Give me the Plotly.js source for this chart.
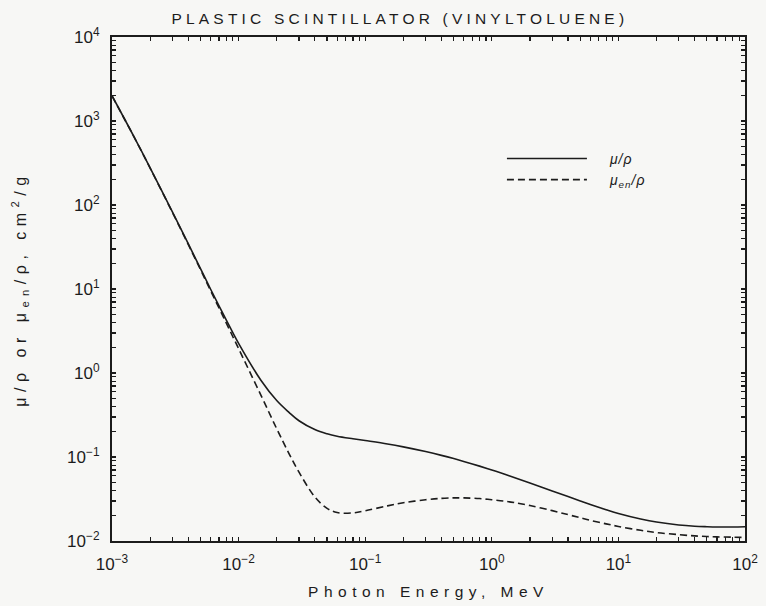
<!DOCTYPE html>
<html>
<head>
<meta charset="utf-8">
<script src="https://cdn.plot.ly/plotly-3.0.1.min.js"></script>
<style>
  html, body { margin: 0; padding: 0; background: #f7f7f5; }
  #chart { width: 766px; height: 606px; }
  .gtitle { letter-spacing: 4.2px; }
  .xtitle { letter-spacing: 5.5px; }
  .ytitle { letter-spacing: 5.5px; }
  .legendtext { letter-spacing: 1px; }
</style>
</head>
<body>
<div id="chart"></div>
<script>
// Photon energy, MeV
const energy = [0.001, 0.0015, 0.002, 0.003, 0.004, 0.005, 0.006, 0.008, 0.01, 0.015, 0.02, 0.025, 0.03, 0.04, 0.05, 0.06, 0.08, 0.1, 0.15, 0.2, 0.3, 0.4, 0.5, 0.6, 0.8, 1, 1.25, 1.5, 2, 3, 4, 5, 6, 8, 10, 15, 20, 30, 40, 50, 60, 80, 100];
// mass attenuation coefficient mu/rho, cm2/g
const muRho = [2000, 640, 277, 82.6, 34.6, 17.5, 10.0, 4.27, 2.25, 0.82, 0.47, 0.34, 0.27, 0.212, 0.189, 0.177, 0.165, 0.157, 0.143, 0.132, 0.116, 0.1046, 0.0958, 0.0886, 0.0779, 0.0701, 0.0627, 0.0570, 0.0490, 0.0395, 0.0338, 0.0300, 0.0272, 0.0236, 0.0213, 0.0183, 0.0168, 0.0155, 0.0150, 0.0148, 0.0147, 0.0147, 0.0148];
// mass energy-absorption coefficient mu_en/rho, cm2/g
const muEnRho = [1990, 638, 275, 81.7, 33.9, 17.0, 9.6, 3.92, 1.95, 0.545, 0.217, 0.11, 0.066, 0.0335, 0.0245, 0.0218, 0.0216, 0.0229, 0.0262, 0.0285, 0.031, 0.0322, 0.0326, 0.0326, 0.032, 0.031, 0.0299, 0.0287, 0.0264, 0.023, 0.0206, 0.0189, 0.0176, 0.016, 0.0149, 0.0134, 0.0126, 0.0119, 0.0115, 0.0113, 0.0112, 0.0111, 0.0110];

const xTickVals = [0.001, 0.01, 0.1, 1, 10, 100];
const xTickText = ['10<sup>−3</sup>', '10<sup>−2</sup>', '10<sup>−1</sup>', '10<sup>0</sup>', '10<sup>1</sup>', '10<sup>2</sup>'];
const yTickVals = [0.01, 0.1, 1, 10, 100, 1000, 10000];
const yTickText = ['10<sup>−2</sup>', '10<sup>−1</sup>', '10<sup>0</sup>', '10<sup>1</sup>', '10<sup>2</sup>', '10<sup>3</sup>', '10<sup>4</sup>'];
const minorMultipliers = [2, 3, 4, 5, 6, 7, 8, 9];

// major decade ticks (labelled) plus unlabelled 2..9 ticks inside each decade
function allTicks(decades, labels) {
  const vals = [], text = [];
  decades.forEach(function (d, i) {
    vals.push(d); text.push(labels[i]);
    if (i < decades.length - 1) {
      minorMultipliers.forEach(function (m) { vals.push(d * m); text.push(''); });
    }
  });
  return { vals: vals, text: text };
}
const xt = allTicks(xTickVals, xTickText);
const yt = allTicks(yTickVals, yTickText);

const seriesNames = ['<i>μ/ρ</i>', '<i>μ<sub>en</sub>/ρ</i>'];

const ink = '#1c1c1c';
const bg = '#f7f7f5';
const fontFam = 'Liberation Sans, Arial, sans-serif';

const traces = [
  {
    x: energy, y: muRho, name: seriesNames[0], type: 'scatter', mode: 'lines',
    line: { color: ink, width: 1.6, shape: 'spline', smoothing: 1 }
  },
  {
    x: energy, y: muEnRho, name: seriesNames[1], type: 'scatter', mode: 'lines',
    line: { color: ink, width: 1.6, dash: '7px,4px', shape: 'spline', smoothing: 1 }
  }
];

const axisCommon = {
  type: 'log',
  showline: true, linecolor: ink, linewidth: 2, mirror: 'ticks',
  ticks: 'inside', ticklen: 4, tickwidth: 1.2, tickcolor: ink,
  showgrid: false, zeroline: false,
  tickmode: 'array',
  tickfont: { family: fontFam, size: 17, color: ink },
  ticklabelstandoff: 7
};

const layout = {
  width: 766, height: 606,
  margin: { l: 112, r: 21, t: 37, b: 65 },
  paper_bgcolor: bg, plot_bgcolor: bg,
  font: { family: fontFam, color: ink },
  title: {
    text: 'PLASTIC SCINTILLATOR (VINYLTOLUENE)',
    font: { family: fontFam, size: 15.5, color: ink },
    x: 0.522, xanchor: 'center', xref: 'container',
    y: 0.97, yanchor: 'middle', yref: 'container'
  },
  xaxis: Object.assign({}, axisCommon, {
    range: [-3, 2],
    tickvals: xt.vals, ticktext: xt.text,
    title: { text: 'Photon Energy, MeV', font: { family: fontFam, size: 15.5, color: ink }, standoff: 13 }
  }),
  yaxis: Object.assign({}, axisCommon, {
    range: [-2, 4],
    tickvals: yt.vals, ticktext: yt.text,
    title: { text: 'μ/ρ or μ<sub>en</sub>/ρ, cm<sup>2</sup>/g', font: { family: fontFam, size: 16, color: ink }, standoff: 37 }
  }),
  showlegend: true,
  legend: {
    x: 0.616, y: 0.79, xanchor: 'left', yanchor: 'top',
    bgcolor: 'rgba(0,0,0,0)', borderwidth: 0,
    font: { family: fontFam, size: 14, color: ink },
    itemwidth: 98, tracegroupgap: 0
  }
};

Plotly.newPlot('chart', traces, layout, { displayModeBar: false, staticPlot: true }).then(function () {
  document.querySelectorAll('.legendlines path').forEach(function (p) {
    p.setAttribute('d', 'M5,0h80');
  });
});
</script>
</body>
</html>
